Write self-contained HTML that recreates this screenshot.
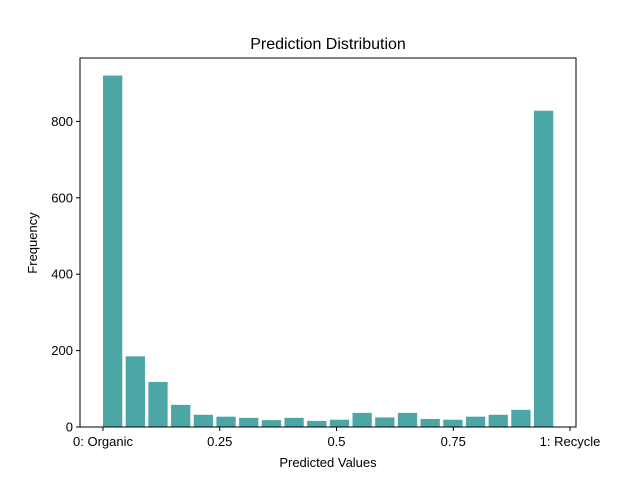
<!DOCTYPE html>
<html><head><meta charset="utf-8"><style>
body{margin:0;background:#fff;}
svg text{font-family:"Liberation Sans","DejaVu Sans",sans-serif;fill:#000;}
</style></head><body>
<svg id="chart" width="640" height="480" xmlns="http://www.w3.org/2000/svg">
<rect width="640" height="480" fill="#fff"/>
<text x="328" y="49" font-size="16" text-anchor="middle">Prediction Distribution</text>
<g id="bars"></g>
<rect x="80" y="58" width="496" height="369" fill="none" stroke="#000" stroke-width="1"/>
<g id="xticks"></g>
<g id="yticks"></g>
<text x="328" y="467" font-size="13" text-anchor="middle">Predicted Values</text>
<text transform="translate(37,243) rotate(-90)" font-size="13" text-anchor="middle">Frequency</text>
</svg>
<script>
const binStart = 0;
const binWidth = 0.04857;
const counts = [920,185,118,58,32,27,24,18,24,16,19,37,25,37,21,19,27,32,45,828];
const xTickValues = [0,0.25,0.5,0.75,1];
const xTickLabels = ["0: Organic","0.25","0.5","0.75","1: Recycle"];
const yTickValues = [0,200,400,600,800];
const NS="http://www.w3.org/2000/svg";
const yMax=966;
const L=80,R=576,T=58,B=427;
const xs=v=>103+v*467;
const ys=v=>B-v/yMax*(B-T);
const bars=document.getElementById('bars');
counts.forEach((c,i)=>{
  const x0=binStart+i*binWidth;
  const r=document.createElementNS(NS,'rect');
  r.setAttribute('x',xs(x0));
  r.setAttribute('width',xs(x0+binWidth*0.85)-xs(x0));
  r.setAttribute('y',ys(c));
  r.setAttribute('height',B-ys(c));
  r.setAttribute('fill','#4da6a6');
  
  
  bars.appendChild(r);
});
const xg=document.getElementById('xticks');
xTickValues.forEach((v,i)=>{
  const x=xs(v);
  const l=document.createElementNS(NS,'line');
  l.setAttribute('x1',x);l.setAttribute('x2',x);l.setAttribute('y1',B);l.setAttribute('y2',B+4);
  l.setAttribute('stroke','#000');
  
  
  xg.appendChild(l);
  const t=document.createElementNS(NS,'text');
  t.setAttribute('x',x);t.setAttribute('y',B+19);t.setAttribute('font-size','13');t.setAttribute('text-anchor','middle');
  t.textContent=xTickLabels[i];
  
  
  xg.appendChild(t);
});
const yg=document.getElementById('yticks');
yTickValues.forEach(v=>{
  const y=ys(v);
  const l=document.createElementNS(NS,'line');
  l.setAttribute('x1',L-4);l.setAttribute('x2',L);l.setAttribute('y1',y);l.setAttribute('y2',y);
  l.setAttribute('stroke','#000');
  
  
  yg.appendChild(l);
  const t=document.createElementNS(NS,'text');
  t.setAttribute('x',L-7);t.setAttribute('y',y+4.5);t.setAttribute('font-size','13');t.setAttribute('text-anchor','end');
  t.textContent=v;
  
  
  yg.appendChild(t);
});
</script>
</body></html>
